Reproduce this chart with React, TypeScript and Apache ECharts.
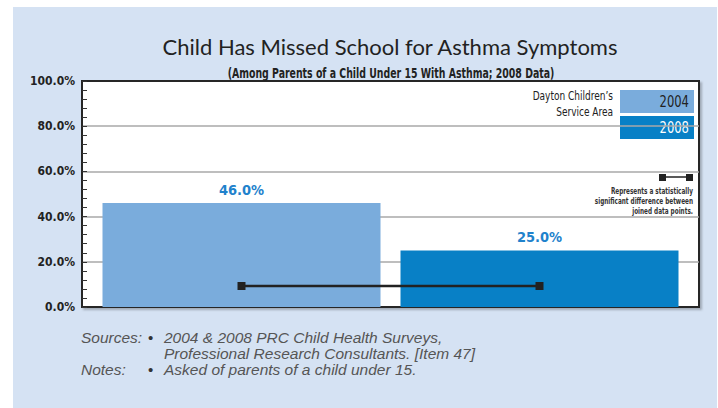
import React, { useEffect, useRef } from "react";
import * as echarts from "echarts";

const categories = ["Dayton Children's Service Area"];
const seriesNames = ["2004", "2008"];
const values2004 = [46.0];
const values2008 = [25.0];
const sigLevel = [9.3];
const yTicks = [0, 20, 40, 60, 80, 100];

const C1 = "#7aacdc";
const C2 = "#0880c6";
const BAR_W = 278;
const GAP = 20;
const NARROW = "'Liberation Sans Narrow', 'DejaVu Sans Condensed', sans-serif";
const FOOT = "'Liberation Sans', sans-serif";

function txt(x: number, y: number, text: string, o: any = {}) {
  const align = o.align || "left";
  return {
    type: "text",
    x,
    y,
    scaleX: o.sx || 1,
    silent: true,
    style: {
      text,
      fontSize: o.size || 12,
      fontFamily: o.family || NARROW,
      fontWeight: o.weight || "normal",
      fontStyle: o.style || "normal",
      fill: o.fill || "#222",
      textAlign: align,
      align,
      textVerticalAlign: "middle",
      verticalAlign: "middle",
    },
  };
}

export default function App() {
  const ref = useRef<HTMLDivElement>(null);
  useEffect(() => {
    if (!ref.current) return;
    const chart = echarts.init(ref.current, undefined, { renderer: "svg" });
    const labelOpt = {
      show: true,
      position: "top",
      distance: 6,
      formatter: (p: any) => Number(p.value).toFixed(1) + "%",
      fontFamily: NARROW,
      fontWeight: "bold",
      fontSize: 14.5,
      color: "#1f82cc",
    };
    chart.setOption({
      animation: false,
      backgroundColor: "transparent",
      grid: {
        left: 82,
        right: 19,
        top: 81,
        bottom: 101,
        show: true,
        backgroundColor: "#ffffff",
        borderColor: "#262626",
        borderWidth: 2,
        shadowColor: "rgba(0,0,0,0.25)",
        shadowBlur: 2,
        shadowOffsetX: 2,
        shadowOffsetY: 2,
      },
      xAxis: {
        type: "category",
        data: categories,
        axisLabel: { show: false },
        axisTick: { show: false },
        axisLine: { show: true, lineStyle: { color: "#262626", width: 2 } },
      },
      yAxis: {
        type: "value",
        min: yTicks[0],
        max: yTicks[yTicks.length - 1],
        interval: 20,
        axisLine: { show: true, lineStyle: { color: "#262626", width: 2 } },
        axisTick: { show: true, inside: true, length: 5, lineStyle: { color: "#333" } },
        minorTick: { show: true, splitNumber: 5, length: 5, lineStyle: { color: "#333" } },
        splitLine: {
          show: true,
          showMaxLine: false,
          showMinLine: false,
          lineStyle: { color: "#a8a8a8", width: 1.5 },
        },
        axisLabel: {
          formatter: (v: number) => v.toFixed(1) + "%",
          fontFamily: NARROW,
          fontWeight: "bold",
          fontSize: 12,
          color: "#222",
          margin: 7,
        },
      },
      series: [
        {
          name: seriesNames[0],
          type: "bar",
          data: values2004,
          barWidth: BAR_W,
          barGap: (GAP / BAR_W) * 100 + "%",
          itemStyle: { color: C1 },
          label: labelOpt,
        },
        {
          name: seriesNames[1],
          type: "bar",
          data: values2008,
          barWidth: BAR_W,
          barGap: (GAP / BAR_W) * 100 + "%",
          itemStyle: { color: C2 },
          label: labelOpt,
        },
        {
          type: "custom",
          data: sigLevel.map((v, i) => [i, v]),
          z: 10,
          renderItem: (params: any, api: any) => {
            const c = api.coord([api.value(0), api.value(1)]);
            const off = (BAR_W + GAP) / 2;
            const x1 = c[0] - off;
            const x2 = c[0] + off;
            const s = 8;
            return {
              type: "group",
              children: [
                { type: "line", shape: { x1, y1: c[1], x2, y2: c[1] }, style: { stroke: "#222", lineWidth: 2.5 } },
                { type: "rect", shape: { x: x1 - s / 2, y: c[1] - s / 2, width: s, height: s }, style: { fill: "#222" } },
                { type: "rect", shape: { x: x2 - s / 2, y: c[1] - s / 2, width: s, height: s }, style: { fill: "#222" } },
              ],
            };
          },
        },
      ],
      graphic: [
        txt(390, 46, "Child Has Missed School for Asthma Symptoms", { size: 22, family: "Lato, 'Noto Sans', sans-serif", fill: "#222", align: "center" }),
        txt(391, 73, "(Among Parents of a Child Under 15 With Asthma; 2008 Data)", { size: 14, weight: "bold", fill: "#222", align: "center", sx: 0.745 }),
        // legend
        txt(613, 96, "Dayton Children\u2019s", { size: 13, align: "right", sx: 0.77 }),
        txt(613, 112, "Service Area", { size: 13, align: "right", sx: 0.77 }),
        { type: "rect", shape: { x: 620, y: 90, width: 74, height: 23 }, style: { fill: C1 }, silent: true },
        { type: "rect", shape: { x: 620, y: 116, width: 74, height: 23 }, style: { fill: C2 }, silent: true },
        txt(689, 102, seriesNames[0], { size: 15, align: "right", fill: "#222", sx: 0.86 }),
        txt(689, 128, seriesNames[1], { size: 15, align: "right", fill: "#ffffff", sx: 0.86 }),
        { type: "line", shape: { x1: 663, y1: 177, x2: 687, y2: 177 }, style: { stroke: "#222", lineWidth: 1.5 }, silent: true },
        { type: "rect", shape: { x: 659, y: 174, width: 7, height: 7 }, style: { fill: "#222" }, silent: true },
        { type: "rect", shape: { x: 686, y: 174, width: 7, height: 7 }, style: { fill: "#222" }, silent: true },
        txt(693, 190, "Represents a statistically", { size: 9.5, weight: "bold", align: "right", fill: "#333", sx: 0.67 }),
        txt(693, 200, "significant difference between", { size: 9.5, weight: "bold", align: "right", fill: "#333", sx: 0.67 }),
        txt(693, 210, "joined data points.", { size: 9.5, weight: "bold", align: "right", fill: "#333", sx: 0.67 }),
        // footnotes
        txt(81, 337, "Sources:", { size: 15.5, family: FOOT, style: "italic", fill: "#555" }),
        txt(148, 337, "\u2022", { size: 15, family: FOOT, fill: "#333" }),
        txt(164, 337, "2004 & 2008 PRC Child Health Surveys,", { size: 15.5, family: FOOT, style: "italic", fill: "#555" }),
        txt(164, 353, "Professional Research Consultants. [Item 47]", { size: 15.5, family: FOOT, style: "italic", fill: "#555" }),
        txt(81, 369, "Notes:", { size: 15.5, family: FOOT, style: "italic", fill: "#555" }),
        txt(148, 369, "\u2022", { size: 15, family: FOOT, fill: "#333" }),
        txt(164, 369, "Asked of parents of a child under 15.", { size: 15.5, family: FOOT, style: "italic", fill: "#555" }),
      ],
    });
    return () => chart.dispose();
  }, []);

  return (
    <div style={{ position: "fixed", left: 0, top: 0, width: 718, height: 408, background: "#ffffff" }}>
      <div style={{ position: "absolute", left: 13, top: 7, width: 704, height: 401, background: "#d5e2f3" }} />
      <div ref={ref} style={{ position: "absolute", left: 0, top: 0, width: 718, height: 408 }} />
    </div>
  );
}
